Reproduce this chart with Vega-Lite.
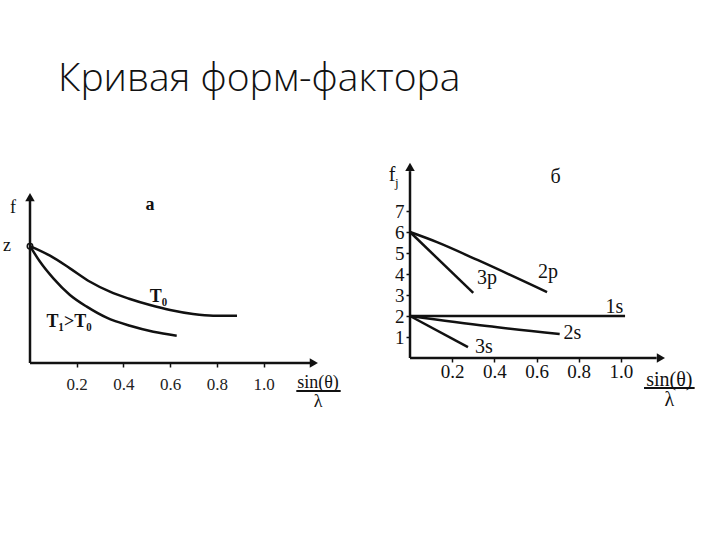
{
  "$schema": "https://vega.github.io/schema/vega-lite/v6.json",
  "background": "white",
  "padding": {"left": 3, "top": 60, "right": 5, "bottom": 5},
  "bounds": "flush",
  "spacing": 95,
  "config": {"view": {"stroke": null}},
  "title": {"text": "Кривая форм-фактора", "anchor": "start", "font": "Open Sans", "fontWeight": 300, "fontSize": 39, "color": "#111", "dx": 55, "offset": 61},
  "hconcat": [
    {
      "width": 285,
      "height": 203,
      "encoding": {
        "x": {"field": "x", "type": "quantitative", "scale": {"domain": [0, 1.22], "nice": false, "zero": false},
          "axis": {"values": [0.2, 0.4, 0.6, 0.8, 1.0], "format": ".1f", "domain": false, "grid": false, "ticks": true, "tickSize": 4, "tickColor": "#111", "tickWidth": 1.5, "labelFont": "Liberation Serif", "labelFontSize": 17, "labelColor": "#222", "labelPadding": 9, "title": null}},
        "y": {"field": "y", "type": "quantitative", "scale": {"domain": [0, 17.37], "nice": false, "zero": false}, "axis": null}
      },
      "layer": [
        {
          "data": {"values": [{"x": 0, "y": 0, "x2": 1.2, "y2": 0}, {"x": 0, "y": 0, "x2": 0, "y2": 14.0}]},
          "mark": {"type": "rule", "color": "#111", "strokeWidth": 2.5},
          "encoding": {"x2": {"field": "x2"}, "y2": {"field": "y2"}}
        },
        {
          "data": {"values": [{"x": 1.215, "y": 0, "s": "triangle-right"}, {"x": 0, "y": 14.2, "s": "triangle-up"}]},
          "mark": {"type": "point", "filled": true, "color": "#111", "size": 90, "opacity": 1},
          "encoding": {"shape": {"field": "s", "type": "nominal", "scale": null, "legend": null}}
        },
        {
          "data": {"values": [
            {"s": "T0", "x": 0, "y": 10}, {"s": "T0", "x": 0.0856, "y": 9.18}, {"s": "T0", "x": 0.171, "y": 8.1}, {"s": "T0", "x": 0.257, "y": 6.95}, {"s": "T0", "x": 0.342, "y": 6.1}, {"s": "T0", "x": 0.428, "y": 5.48}, {"s": "T0", "x": 0.514, "y": 4.96}, {"s": "T0", "x": 0.6, "y": 4.53}, {"s": "T0", "x": 0.698, "y": 4.19}, {"s": "T0", "x": 0.784, "y": 4.05}, {"s": "T0", "x": 0.886, "y": 4.05},
            {"s": "T1", "x": 0, "y": 10}, {"s": "T1", "x": 0.043, "y": 8.66}, {"s": "T1", "x": 0.1, "y": 7.24}, {"s": "T1", "x": 0.171, "y": 5.82}, {"s": "T1", "x": 0.243, "y": 4.82}, {"s": "T1", "x": 0.328, "y": 3.88}, {"s": "T1", "x": 0.428, "y": 3.19}, {"s": "T1", "x": 0.528, "y": 2.68}, {"s": "T1", "x": 0.628, "y": 2.34}
          ]},
          "mark": {"type": "line", "color": "#111", "strokeWidth": 2.5, "interpolate": "monotone"},
          "encoding": {"detail": {"field": "s", "type": "nominal"}}
        },
        {
          "data": {"values": [{"x": 0, "y": 10}]},
          "mark": {"type": "point", "filled": false, "color": "#111", "size": 30, "strokeWidth": 1.5, "opacity": 1}
        },
        {
          "data": {"values": [{"x": 1.14, "y": -2.4, "x2": 1.33}]},
          "mark": {"type": "rule", "color": "#111", "strokeWidth": 2},
          "encoding": {"x2": {"field": "x2"}}
        },
        {
          "data": {"values": [
            {"x": -0.073, "y": 13.3, "t": "f"}, {"x": -0.098, "y": 10, "t": "z"}, {"x": 1.233, "y": -1.71, "t": "sin(θ)"}, {"x": 1.233, "y": -3.34, "t": "λ"}
          ]},
          "mark": {"type": "text", "font": "Liberation Serif", "fontSize": 18, "color": "#111", "align": "center", "baseline": "middle"},
          "encoding": {"text": {"field": "t"}}
        },
        {
          "data": {"values": [
            {"x": 0.514, "y": 13.5, "t": "a"}, {"x": 0.55, "y": 5.65, "t": "T₀"}, {"x": 0.167, "y": 3.5, "t": "T₁>T₀"}
          ]},
          "mark": {"type": "text", "font": "Liberation Serif", "fontSize": 18, "fontWeight": "bold", "color": "#111", "align": "center", "baseline": "middle"},
          "encoding": {"text": {"field": "t"}}
        }
      ]
    },
    {
      "width": 253,
      "height": 198,
      "encoding": {
        "x": {"field": "x", "type": "quantitative", "scale": {"domain": [0, 1.2], "nice": false, "zero": false},
          "axis": {"values": [0.2, 0.4, 0.6, 0.8, 1.0], "format": ".1f", "domain": false, "grid": false, "ticks": true, "tickSize": 4, "tickColor": "#111", "tickWidth": 1.5, "labelFont": "Liberation Serif", "labelFontSize": 19, "labelColor": "#111", "labelPadding": 0, "title": null}},
        "y": {"field": "y", "type": "quantitative", "scale": {"domain": [0, 9.43], "nice": false, "zero": false},
          "axis": {"values": [1, 2, 3, 4, 5, 6, 7], "format": "d", "domain": false, "grid": false, "ticks": true, "tickSize": 4, "tickColor": "#111", "tickWidth": 1.5, "labelFont": "Liberation Serif", "labelFontSize": 19, "labelColor": "#111", "labelPadding": 2, "title": null}}
      },
      "layer": [
        {
          "data": {"values": [{"x": 0, "y": 0, "x2": 1.17, "y2": 0}, {"x": 0, "y": 0, "x2": 0, "y2": 8.9}]},
          "mark": {"type": "rule", "color": "#111", "strokeWidth": 2.5},
          "encoding": {"x2": {"field": "x2"}, "y2": {"field": "y2"}}
        },
        {
          "data": {"values": [{"x": 1.19, "y": 0, "s": "triangle-right"}, {"x": 0, "y": 9.1, "s": "triangle-up"}]},
          "mark": {"type": "point", "filled": true, "color": "#111", "size": 90, "opacity": 1},
          "encoding": {"shape": {"field": "s", "type": "nominal", "scale": null, "legend": null}}
        },
        {
          "data": {"values": [
            {"s": "2p", "x": 0, "y": 6}, {"s": "2p", "x": 0.128, "y": 5.52}, {"s": "2p", "x": 0.32, "y": 4.67}, {"s": "2p", "x": 0.65, "y": 3.14},
            {"s": "3p", "x": 0, "y": 6}, {"s": "3p", "x": 0.3, "y": 3.1},
            {"s": "1s", "x": 0, "y": 2}, {"s": "1s", "x": 1.02, "y": 2},
            {"s": "2s", "x": 0, "y": 2}, {"s": "2s", "x": 0.365, "y": 1.52}, {"s": "2s", "x": 0.71, "y": 1.14},
            {"s": "3s", "x": 0, "y": 2}, {"s": "3s", "x": 0.275, "y": 0.52}
          ]},
          "mark": {"type": "line", "color": "#111", "strokeWidth": 2.5, "interpolate": "monotone"},
          "encoding": {"detail": {"field": "s", "type": "nominal"}}
        },
        {
          "data": {"values": [{"x": 1.11, "y": -1.43, "x2": 1.35}]},
          "mark": {"type": "rule", "color": "#111", "strokeWidth": 2},
          "encoding": {"x2": {"field": "x2"}}
        },
        {
          "data": {"values": [
            {"x": 0.365, "y": 3.8, "t": "3p"}, {"x": 0.655, "y": 4.1, "t": "2p"}, {"x": 0.97, "y": 2.43, "t": "1s"}, {"x": 0.77, "y": 1.19, "t": "2s"}, {"x": 0.35, "y": 0.52, "t": "3s"},
            {"x": 0.69, "y": 8.6, "t": "б"}, {"x": -0.085, "y": 8.7, "t": "f"},
            {"x": 1.23, "y": -1.05, "t": "sin(θ)"}, {"x": 1.23, "y": -2.0, "t": "λ"}
          ]},
          "mark": {"type": "text", "font": "Liberation Serif", "fontSize": 20, "color": "#111", "align": "center", "baseline": "middle"},
          "encoding": {"text": {"field": "t"}}
        },
        {
          "data": {"values": [{"x": -0.062, "y": 8.33, "t": "j"}]},
          "mark": {"type": "text", "font": "Liberation Serif", "fontSize": 13, "color": "#111", "align": "center", "baseline": "middle"},
          "encoding": {"text": {"field": "t"}}
        }
      ]
    }
  ]
}
